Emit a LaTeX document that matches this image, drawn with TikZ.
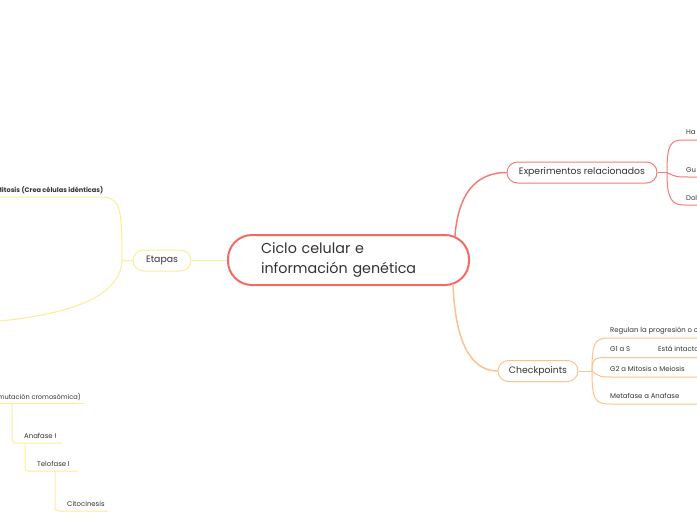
\documentclass[tikz,border=0pt]{standalone}
\usepackage{fontspec}
\setmainfont{Poppins}
\definecolor{redc}{HTML}{F56868}
\definecolor{redl}{HTML}{F87A7A}
\definecolor{orgl}{HTML}{FCC28F}
\definecolor{yell}{HTML}{FAEE98}
\definecolor{txt}{HTML}{333333}
\tikzset{
  topic/.style={draw, rounded corners=10.5pt, minimum height=21pt, inner sep=0pt, line width=1pt, text=txt, font=\fontsize{9.3}{11}\selectfont},
  leaf/.style={inner sep=0pt, text=txt, font=\fontsize{6.9}{8}\selectfont},
  ylink/.style={draw=yell, line width=1pt},
  rlink/.style={draw=redl, line width=1pt},
  olink/.style={draw=orgl, line width=1pt},
}
\begin{document}
\begin{tikzpicture}[x=1pt,y=-1pt]
\useasboundingbox (0,0) rectangle (697,520);
\clip (0,0) rectangle (697,520);
\fill[white] (0,0) rectangle (697,520);

% central
\node[draw=redc, line width=2pt, rounded corners=24pt, minimum width=241pt, minimum height=50pt, inner sep=0pt, text width=175pt, align=left, text=txt, font=\fontsize{14.3}{20}\selectfont] (c) at (348.5,260) {Ciclo celular e\\información genética};

% main topics
\node[topic, draw=yell, minimum width=58pt] (e) at (162,260.5) {Etapas};
\node[topic, draw=redl, minimum width=150pt] (x) at (582,172.5) {Experimentos relacionados};
\node[topic, draw=orgl, minimum width=80pt] (k) at (538,371) {Checkpoints};

% central links
\draw[ylink, line width=1.5pt] (c.west |- e.east) -- (e.east);
\coordinate (cx) at (455,236);
\coordinate (ck) at (453,284);
\draw[redl, line width=1.5pt] (cx) .. controls (458,195) and (475,172.5) .. (x.west);
\draw[orgl, line width=1.5pt] (ck) .. controls (455,340) and (470,371) .. (k.west);

% Etapas branches
\coordinate (ej) at (122,261);
\node[leaf, anchor=base east, font=\fontsize{6.6}{8}\selectfont\bfseries] (mit) at (103.5,192) {Mitosis (Crea células idénticas)};
\coordinate (mitE) at (100,197);
\coordinate (mitW) at (0,197);
\coordinate (low) at (0,321);
\draw[ylink] (e.west) -- (ej);
\draw[ylink] (ej) .. controls (122,205) and (120,197) .. (mitE) -- (mitW);
\draw[ylink] (ej) .. controls (120,300) and (60,315) .. (low);

% lower-left chain
\node[leaf, anchor=base east, font=\fontsize{6.6}{8}\selectfont] (perm) at (81,399) {mutación cromosómica)};
\node[leaf, anchor=base west] (ana) at (24,438) {Anafase I};
\node[leaf, anchor=base west] (tel) at (37,466) {Telofase I};
\node[leaf, anchor=base west] (cit) at (67,506) {Citocinesis};
\coordinate (permW) at (0,403);
\coordinate (permE) at (84,403);
\coordinate (anaE) at (62,443);
\coordinate (telE) at (78,471);
\coordinate (citE) at (108,511);
\draw[ylink] (permW) -- (permE);
\draw[ylink, rounded corners=3pt] (12,403) -- (12,443) -- (anaE);
\draw[ylink, rounded corners=3pt] (25,443) -- (25,471) -- (telE);
\draw[ylink, rounded corners=3pt] (55,471) -- (55,511) -- (citE);

% Experimentos branches
\coordinate (xj) at (667,172.5);
\node[leaf, anchor=base west] (ha) at (686,134) {Ha};
\node[leaf, anchor=base west] (gu) at (686,172) {Gu};
\node[leaf, anchor=base west] (dol) at (686,200) {Dol};
\draw[rlink] (x.east) -- (xj);
\draw[rlink] (xj) .. controls (667,145) and (670,140) .. (683,140) -- (697,140);
\draw[rlink] (xj) .. controls (676,177) .. (690,177) -- (697,177);
\draw[rlink] (xj) .. controls (667,200) and (672,205) .. (685,205) -- (697,205);

% Checkpoints branches
\coordinate (kj) at (592,371);
\node[leaf, anchor=base west] (reg) at (610,332) {Regulan la progresión o c};
\node[leaf, anchor=base west] (g1) at (610,351) {G1 a S};
\node[leaf, anchor=base west] (est) at (658,351) {Está intacto};
\node[leaf, anchor=base west] (g2) at (610,371) {G2 a Mitosis o Meiosis};
\node[leaf, anchor=base west] (met) at (610,398) {Metafase a Anafase};
\draw[olink] (k.east) -- (kj);
\draw[olink] (kj) .. controls (592,341) and (595,338) .. (610,338) -- (697,338);
\draw[olink] (kj) .. controls (592,359) and (595,357.5) .. (606,357.5) -- (697,357.5);
\draw[olink] (kj) .. controls (600,377) .. (612,377) -- (697,377);
\draw[olink] (kj) .. controls (592,400) and (595,404) .. (610,404) -- (697,404);
\end{tikzpicture}
\end{document}
